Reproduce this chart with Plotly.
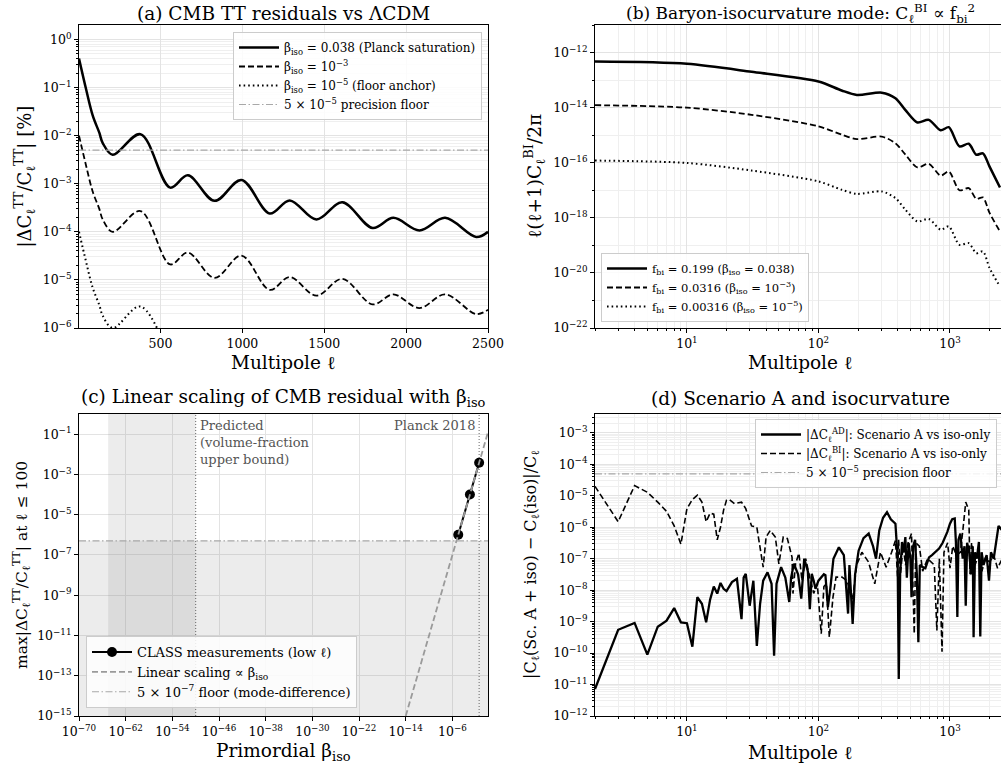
import plotly.graph_objects as go

W, H = 1001, 766
FONT = "DejaVu Serif"

# ---------------- Panel (a): CMB TT residuals ----------------
ELL_A = [2, 45, 86, 126, 147, 208, 377, 559, 667, 830, 994, 1167, 1289, 1452,
         1610, 1795, 1922, 2081, 2238, 2428, 2500]
RES_A_PLANCK = [0.40, 0.093, 0.026, 0.0115, 7.0e-3, 4.0e-3, 1.07e-2, 8.3e-4, 1.5e-3,
                4.4e-4, 1.2e-3, 2.4e-4, 4.5e-4, 1.8e-4, 4.1e-4, 1.2e-4, 1.95e-4,
                1.07e-4, 1.95e-4, 7.8e-5, 1.0e-4]
RES_A_1E3 = [1.0e-2, 2.4e-3, 6.8e-4, 3.0e-4, 1.8e-4, 1.0e-4, 2.7e-4, 2.1e-5, 3.7e-5,
             1.1e-5, 3.2e-5, 6.2e-6, 1.15e-5, 4.7e-6, 1.05e-5, 3.1e-6, 5.0e-6,
             2.6e-6, 5.0e-6, 1.95e-6, 2.4e-6]
ELL_A_DOT = [2, 45, 86, 126, 147, 208, 377, 559]
RES_A_1E5 = [1.0e-4, 2.4e-5, 6.8e-6, 3.0e-6, 1.8e-6, 1.0e-6, 2.8e-6, 2.1e-7]
FLOOR_A = 5e-3
ELL_A_SPAN = [2, 2500]

# ---------------- Panel (b): baryon-isocurvature spectra ----------------
ELL_B = [2, 10, 31, 100, 150, 196, 303, 385, 457, 565, 690, 850, 980, 1180, 1390,
         1585, 1780, 2000, 2400]
CBI_0199 = [4.7e-13, 3.9e-13, 2.0e-13, 8.9e-14, 4.2e-14, 2.9e-14, 3.5e-14, 2.2e-14,
            8.3e-15, 2.9e-15, 3.6e-15, 1.5e-15, 1.95e-15, 3.9e-16, 4.9e-16, 1.95e-16,
            2.2e-16, 7.2e-17, 1.26e-17]
CBI_00316 = [1.23e-14, 1.0e-14, 5.5e-15, 2.1e-15, 1.05e-15, 7.2e-16, 8.9e-16, 5.1e-16,
             2.0e-16, 6.8e-17, 9.1e-17, 3.4e-17, 4.8e-17, 1.0e-17, 1.2e-17, 4.9e-18,
             5.5e-18, 1.5e-18, 3.2e-19]
CBI_000316 = [1.2e-16, 9.8e-17, 5.2e-17, 2.1e-17, 1.05e-17, 7.4e-18, 9.1e-18, 5.2e-18,
              2.0e-18, 7.4e-19, 9.1e-19, 3.7e-19, 4.9e-19, 1.05e-19, 1.2e-19, 5.2e-20,
              6.0e-20, 1.5e-20, 3.2e-21]

# ---------------- Panel (c): linear scaling ----------------
BETA_MEAS = [1e-5, 1e-3, 0.038]
RES_MEAS = [1.0e-6, 1.0e-4, 3.8e-3]
BETA_LIN = [1e-14, 1.26]
RES_LIN = [1e-15, 0.126]
FLOOR_C = 5e-7
BETA_SPAN_C = [1e-70, 1.26]
BETA_PRED_BAND = [1e-65, 1e-50]
RES_SPAN_C = [1e-15, 1.0]
BETA_PREDICTED = 1e-50
BETA_PLANCK = 0.038

# ---------------- Panel (d): Scenario A vs iso-only ----------------
ELL_AD = [2, 3, 4, 5, 6, 7, 8, 9, 10, 11, 12, 13, 14, 15, 16, 17, 18, 19, 20, 22, 24,
          26, 27, 28, 30, 32, 34, 36, 38, 41, 44, 46, 48, 52, 56, 60, 62, 65, 70, 74,
          78, 83, 86, 89, 92, 95, 100, 105, 110, 113, 118, 123, 130, 143, 156, 168,
          172, 182, 190, 202, 220, 241, 260, 274, 290, 310, 332, 355, 385, 400, 408,
          418, 432, 445, 458, 470, 485, 500, 510, 525, 543, 560, 575, 590, 620, 650,
          693, 730, 770, 826, 880, 955, 1000, 1040, 1087, 1110, 1138, 1160, 1200,
          1250, 1290, 1318, 1350, 1400, 1450, 1490, 1512, 1550, 1600, 1660, 1700,
          1740, 1800, 1900, 1980, 2050, 2150, 2250, 2340, 2500]
DAD = [7.2e-12, 5.5e-10, 9.1e-10, 8.9e-11, 6.9e-10, 1.07e-9, 2.7e-9, 9.5e-10, 8.9e-10,
       1.6e-10, 6.0e-9, 3.7e-9, 9.5e-10, 5.0e-9, 1.3e-8, 7.8e-9, 1.7e-8, 1.1e-8, 9.3e-9,
       1.8e-8, 2.3e-8, 1.2e-9, 2.5e-8, 3.3e-8, 3.2e-9, 2.0e-8, 1.7e-10, 3.7e-9, 2.0e-8,
       3.7e-8, 1.6e-8, 8.3e-11, 1.6e-8, 5.4e-8, 2.5e-8, 4.2e-9, 2.5e-8, 6.9e-8, 3.2e-8,
       5.4e-9, 1.0e-7, 4.0e-8, 2.5e-9, 3.3e-8, 2.0e-8, 1.1e-8, 2.0e-8, 2.5e-8, 3.2e-8,
       3.0e-8, 2.9e-9, 1.1e-8, 1.0e-7, 2.3e-7, 1.3e-7, 1.8e-9, 6.3e-8, 8.5e-10, 3.2e-8,
       1.8e-7, 4.5e-7, 6.3e-7, 2.5e-7, 1.0e-7, 7.9e-7, 2.0e-6, 3.0e-6, 1.8e-6, 1.3e-6,
       1.0e-7, 1.5e-11, 3.2e-8, 3.4e-7, 1.6e-7, 4.9e-7, 2.5e-8, 3.2e-7, 1.0e-7, 6.0e-9,
       2.5e-7, 4.0e-7, 3.2e-8, 2.2e-10, 6.3e-8, 5.4e-8, 5.0e-8, 1.1e-7, 1.3e-7, 1.6e-7,
       2.1e-7, 3.2e-7, 7.1e-7, 1.3e-6, 1.8e-6, 1.9e-6, 3.2e-7, 1.4e-9, 4.0e-7, 6.3e-7,
       1.0e-7, 2.5e-7, 3.2e-9, 3.2e-7, 1.6e-7, 3.2e-8, 2.5e-7, 3.2e-10, 1.6e-7, 1.0e-7,
       3.4e-7, 3.4e-10, 1.6e-7, 6.3e-8, 1.3e-7, 2.0e-8, 1.6e-7, 1.0e-7, 4.0e-7, 1.1e-6,
       7.9e-7]
ELL_BI = [2, 3, 4, 5, 6, 7, 8, 9, 10, 11, 12, 13, 14, 15, 16, 17, 18, 19, 20, 21, 23,
          26, 28, 31, 34, 38, 40, 43, 47, 50, 54, 58, 63, 64, 67, 71, 75, 80, 86, 92,
          98, 105, 110, 115, 121, 129, 136, 151, 165, 182, 195, 214, 240, 268, 296,
          327, 360, 385, 400, 407, 420, 440, 460, 480, 510, 535, 550, 585, 620, 676,
          760, 795, 830, 870, 900, 960, 1000, 1050, 1120, 1200, 1260, 1318, 1390,
          1420, 1460, 1550, 1650, 1750, 1850, 2000, 2150, 2300, 2500]
DBI = [2.0e-5, 1.5e-6, 2.1e-5, 1.3e-5, 6.3e-6, 3.2e-6, 1.1e-6, 2.9e-7, 3.9e-6, 7.6e-6,
       1.05e-5, 6.3e-6, 1.5e-6, 2.8e-6, 2.6e-6, 4.0e-7, 1.0e-6, 3.5e-6, 7.2e-6, 7.6e-6,
       5.6e-6, 6.3e-6, 3.9e-6, 1.1e-6, 1.0e-6, 5.4e-8, 4.9e-7, 7.9e-7, 4.9e-7, 6.9e-8,
       4.9e-7, 4.4e-7, 1.1e-7, 7.8e-9, 6.9e-8, 1.5e-7, 2.0e-8, 1.0e-7, 2.5e-8, 7.9e-9,
       1.6e-8, 4.1e-10, 1.3e-8, 1.6e-8, 3.2e-10, 6.0e-9, 2.6e-8, 2.6e-8, 2.0e-8, 5.0e-9,
       6.3e-8, 1.6e-7, 7.9e-8, 1.6e-8, 1.6e-7, 5.4e-8, 1.6e-7, 3.8e-7, 2.5e-8, 4.0e-7,
       3.2e-8, 2.5e-7, 6.3e-8, 3.2e-7, 6.3e-7, 4.1e-10, 3.2e-7, 2.5e-7, 4.0e-8, 1.0e-7,
       6.3e-8, 5.2e-10, 1.0e-7, 1.1e-10, 1.6e-7, 3.2e-7, 5.0e-8, 2.5e-7, 1.3e-7, 1.6e-7,
       1.0e-6, 6.3e-6, 3.5e-6, 3.2e-8, 3.2e-7, 6.3e-8, 1.3e-7, 4.0e-8, 1.0e-7, 7.9e-8,
       1.3e-7, 5.0e-8, 1.0e-7]
FLOOR_D = 5e-5
ELL_D_SPAN = [2, 2500]

# ---------------- styles ----------------
GRID = "#e3e3e3"
MINOR_GRID = "#efefef"
FLOOR_COL = "#a8a8a8"
DASH = "6px,3px"
DOT = "1.6px,3px"
DASHDOT = "7px,2.5px,1.5px,2.5px"


def sup(n):
    return "10<sup>" + str(n).replace("-", "\u2212") + "</sup>"


fig = go.Figure()

# (a)
fig.add_trace(go.Scatter(x=ELL_A, y=RES_A_PLANCK, mode="lines", line=dict(color="black", width=2.5, shape="spline", smoothing=1.0),
                         name="β<sub>iso</sub> = 0.038 (Planck saturation)", xaxis="x", yaxis="y", legend="legend"))
fig.add_trace(go.Scatter(x=ELL_A, y=RES_A_1E3, mode="lines", line=dict(color="black", width=1.8, dash=DASH, shape="spline", smoothing=1.0),
                         name="β<sub>iso</sub> = 10<sup>−3</sup>", xaxis="x", yaxis="y", legend="legend"))
fig.add_trace(go.Scatter(x=ELL_A_DOT, y=RES_A_1E5, mode="lines", line=dict(color="black", width=2.0, dash=DOT, shape="spline", smoothing=1.0),
                         name="β<sub>iso</sub> = 10<sup>−5</sup> (floor anchor)", xaxis="x", yaxis="y", legend="legend"))
fig.add_trace(go.Scatter(x=ELL_A_SPAN, y=[FLOOR_A, FLOOR_A], mode="lines", line=dict(color=FLOOR_COL, width=1.2, dash=DASHDOT),
                         name="5 × 10<sup>−5</sup> precision floor", xaxis="x", yaxis="y", legend="legend"))

# (b)
fig.add_trace(go.Scatter(x=ELL_B, y=CBI_0199, mode="lines", line=dict(color="black", width=2.5, shape="spline", smoothing=0.8),
                         name="f<sub>bi</sub> = 0.199 (β<sub>iso</sub> = 0.038)", xaxis="x2", yaxis="y2", legend="legend2"))
fig.add_trace(go.Scatter(x=ELL_B, y=CBI_00316, mode="lines", line=dict(color="black", width=1.8, dash=DASH, shape="spline", smoothing=0.8),
                         name="f<sub>bi</sub> = 0.0316 (β<sub>iso</sub> = 10<sup>−3</sup>)", xaxis="x2", yaxis="y2", legend="legend2"))
fig.add_trace(go.Scatter(x=ELL_B, y=CBI_000316, mode="lines", line=dict(color="black", width=2.0, dash=DOT, shape="spline", smoothing=0.8),
                         name="f<sub>bi</sub> = 0.00316 (β<sub>iso</sub> = 10<sup>−5</sup>)", xaxis="x2", yaxis="y2", legend="legend2"))

# (c) shaded spans
fig.add_trace(go.Scatter(x=[BETA_SPAN_C[0], BETA_SPAN_C[1], BETA_SPAN_C[1], BETA_SPAN_C[0], BETA_SPAN_C[0]],
                         y=[RES_SPAN_C[0], RES_SPAN_C[0], FLOOR_C, FLOOR_C, RES_SPAN_C[0]],
                         mode="lines", fill="toself", fillcolor="rgba(128,128,128,0.15)", line=dict(width=0),
                         showlegend=False, hoverinfo="skip", xaxis="x3", yaxis="y3"))
fig.add_trace(go.Scatter(x=[BETA_PRED_BAND[0], BETA_PRED_BAND[1], BETA_PRED_BAND[1], BETA_PRED_BAND[0], BETA_PRED_BAND[0]],
                         y=[RES_SPAN_C[0], RES_SPAN_C[0], RES_SPAN_C[1], RES_SPAN_C[1], RES_SPAN_C[0]],
                         mode="lines", fill="toself", fillcolor="rgba(128,128,128,0.15)", line=dict(width=0),
                         showlegend=False, hoverinfo="skip", xaxis="x3", yaxis="y3"))
for bx in (BETA_PREDICTED, BETA_PLANCK):
    fig.add_trace(go.Scatter(x=[bx, bx], y=RES_SPAN_C, mode="lines", line=dict(color="#666666", width=1, dash="1px,2px"),
                             showlegend=False, hoverinfo="skip", xaxis="x3", yaxis="y3"))
fig.add_trace(go.Scatter(x=BETA_MEAS, y=RES_MEAS, mode="lines+markers", line=dict(color="black", width=2),
                         marker=dict(color="black", size=10), name="CLASS measurements (low ℓ)",
                         xaxis="x3", yaxis="y3", legend="legend3"))
fig.add_trace(go.Scatter(x=BETA_LIN, y=RES_LIN, mode="lines", line=dict(color="#9a9a9a", width=1.8, dash=DASH),
                         name="Linear scaling ∝ β<sub>iso</sub>", xaxis="x3", yaxis="y3", legend="legend3"))
fig.add_trace(go.Scatter(x=BETA_SPAN_C, y=[FLOOR_C, FLOOR_C], mode="lines", line=dict(color=FLOOR_COL, width=1.2, dash=DASHDOT),
                         name="5 × 10<sup>−7</sup> floor (mode-difference)", xaxis="x3", yaxis="y3", legend="legend3"))

# (d)
fig.add_trace(go.Scatter(x=ELL_D_SPAN, y=[FLOOR_D, FLOOR_D], mode="lines", line=dict(color=FLOOR_COL, width=1.2, dash=DASHDOT),
                         name="5 × 10<sup>−5</sup> precision floor", xaxis="x4", yaxis="y4", legend="legend4"))
fig.add_trace(go.Scatter(x=ELL_BI, y=DBI, mode="lines", line=dict(color="black", width=1.6, dash=DASH),
                         name="|ΔC<sub>ℓ</sub><sup>BI</sup>|: Scenario A vs iso-only", xaxis="x4", yaxis="y4", legend="legend4"))
fig.add_trace(go.Scatter(x=ELL_AD, y=DAD, mode="lines", line=dict(color="black", width=2.3),
                         name="|ΔC<sub>ℓ</sub><sup>AD</sup>|: Scenario A vs iso-only", xaxis="x4", yaxis="y4", legend="legend4"))

XA = [79 / W, 488 / W]
XB = [595 / W, 1.0]
YTOP = [1 - 328 / H, 1 - 25 / H]
YBOT = [1 - 716 / H, 1 - 414 / H]

tickfont = dict(family=FONT, size=12.5, color="black")
common = dict(showline=True, linecolor="black", linewidth=1, ticks="outside", ticklen=4, tickcolor="black",
              tickfont=tickfont, showgrid=True, gridcolor=GRID, gridwidth=1, zeroline=False, automargin=False)
minor_log = dict(dtick="D1", ticks="outside", ticklen=2, tickcolor="black", showgrid=True, gridcolor=MINOR_GRID)


def leg(size, **kw):
    d = dict(bgcolor="rgba(255,255,255,0.85)", bordercolor="#cccccc", borderwidth=1,
             font=dict(family=FONT, size=size, color="black"), tracegroupgap=0, itemwidth=40)
    d.update(kw)
    return d


fig.update_layout(
    template="none",
    width=W, height=H, margin=dict(l=0, r=0, t=0, b=0, autoexpand=False),
    paper_bgcolor="white", plot_bgcolor="white",
    font=dict(family=FONT, color="black"),
    xaxis=dict(domain=XA, anchor="y", range=[2, 2500], tickvals=[500, 1000, 1500, 2000, 2500],
               mirror=True, **common),
    yaxis=dict(domain=YTOP, anchor="x", type="log", range=[-6, 0.3],
               tickvals=[1e-6, 1e-5, 1e-4, 1e-3, 1e-2, 1e-1, 1], ticktext=[sup(n) for n in range(-6, 1)],
               mirror=True, minor=minor_log, **common),
    xaxis2=dict(domain=XB, anchor="y2", type="log", range=[0.30103, 3.388],
                tickvals=[10, 100, 1000], ticktext=[sup(1), sup(2), sup(3)], mirror=True,
                minor=minor_log, **common),
    yaxis2=dict(domain=YTOP, anchor="x2", type="log", range=[-22, -11],
                tickvals=[1e-22, 1e-20, 1e-18, 1e-16, 1e-14, 1e-12], ticktext=[sup(n) for n in range(-22, -11, 2)],
                minor=dict(dtick=1, ticks="outside", ticklen=2, tickcolor="black", showgrid=True, gridcolor=MINOR_GRID),
                **common),
    xaxis3=dict(domain=XA, anchor="y3", type="log", range=[-70, 0.1],
                tickvals=[10.0 ** n for n in range(-70, 0, 8)], ticktext=[sup(n) for n in range(-70, 0, 8)],
                mirror=True, **common),
    yaxis3=dict(domain=YBOT, anchor="x3", type="log", range=[-15, 0],
                tickvals=[10.0 ** n for n in range(-15, 0, 2)], ticktext=[sup(n) for n in range(-15, 0, 2)],
                mirror=True, **common),
    xaxis4=dict(domain=XB, anchor="y4", type="log", range=[0.30103, 3.388],
                tickvals=[10, 100, 1000], ticktext=[sup(1), sup(2), sup(3)], mirror=True,
                minor=minor_log, **common),
    yaxis4=dict(domain=YBOT, anchor="x4", type="log", range=[-12, -2.4],
                tickvals=[10.0 ** n for n in range(-12, -2)], ticktext=[sup(n) for n in range(-12, -2)],
                minor=minor_log, **common),
    legend=leg(12, x=482 / W, y=1 - 32 / H, xanchor="right", yanchor="top"),
    legend2=leg(11.5, x=601 / W, y=1 - 322 / H, xanchor="left", yanchor="bottom"),
    legend3=leg(13, x=86 / W, y=1 - 708 / H, xanchor="left", yanchor="bottom"),
    legend4=leg(12, x=997 / W, y=1 - 419 / H, xanchor="right", yanchor="top", traceorder="reversed"),
)

ann = []
def text(x, y, s, size=18.5, angle=0, xanchor="center", yanchor="middle", xref="paper", yref="paper", color="black", align="center", xshift=0):
    ann.append(dict(x=x, y=y, text=s, showarrow=False, textangle=angle, xanchor=xanchor, yanchor=yanchor,
                    xref=xref, yref=yref, font=dict(family=FONT, size=size, color=color), align=align, xshift=xshift))

# titles
text(283.5 / W, 1 - 13 / H, "(a) CMB TT residuals vs ΛCDM")
text(800 / W, 1 - 13 / H, "(b) Baryon-isocurvature mode: C<sub>ℓ</sub><sup>BI</sup> ∝ f<sub>bi</sub><sup>2</sup>", size=17)
text(283.5 / W, 1 - 398 / H, "(c) Linear scaling of CMB residual with β<sub>iso</sub>")
text(800 / W, 1 - 398 / H, "(d) Scenario A and isocurvature")
# x labels
text(283.5 / W, 1 - 362 / H, "Multipole ℓ")
text(800 / W, 1 - 362 / H, "Multipole ℓ")
text(283.5 / W, 1 - 752 / H, "Primordial β<sub>iso</sub>")
text(800 / W, 1 - 752 / H, "Multipole ℓ")
# y labels
text(25 / W, 1 - 176.5 / H, "|ΔC<sub>ℓ</sub><sup>TT</sup>/C<sub>ℓ</sub><sup>TT</sup>| [%]", size=18, angle=-90)
text(535 / W, 1 - 176.5 / H, "ℓ(ℓ+1)C<sub>ℓ</sub><sup>BI</sup>/2π", size=18.5, angle=-90)
text(21 / W, 1 - 565 / H, "max|ΔC<sub>ℓ</sub><sup>TT</sup>/C<sub>ℓ</sub><sup>TT</sup>| at ℓ ≤ 100", size=15.5, angle=-90)
text(531 / W, 1 - 565 / H, "|C<sub>ℓ</sub>(Sc. A + iso) − C<sub>ℓ</sub>(iso)|/C<sub>ℓ</sub>", size=16, angle=-90)
# panel c notes
text(-50, 1 - 416 / H, "Predicted<br>(volume-fraction<br>upper bound)", size=13, xanchor="left", yanchor="top",
     xref="x3", color="#555555", align="left", xshift=2)
text(-1.42, 1 - 416 / H, "Planck 2018", size=13, xanchor="right", yanchor="top", xref="x3", color="#555555", xshift=-2)

fig.update_layout(annotations=ann)
fig.write_html("out.html")
